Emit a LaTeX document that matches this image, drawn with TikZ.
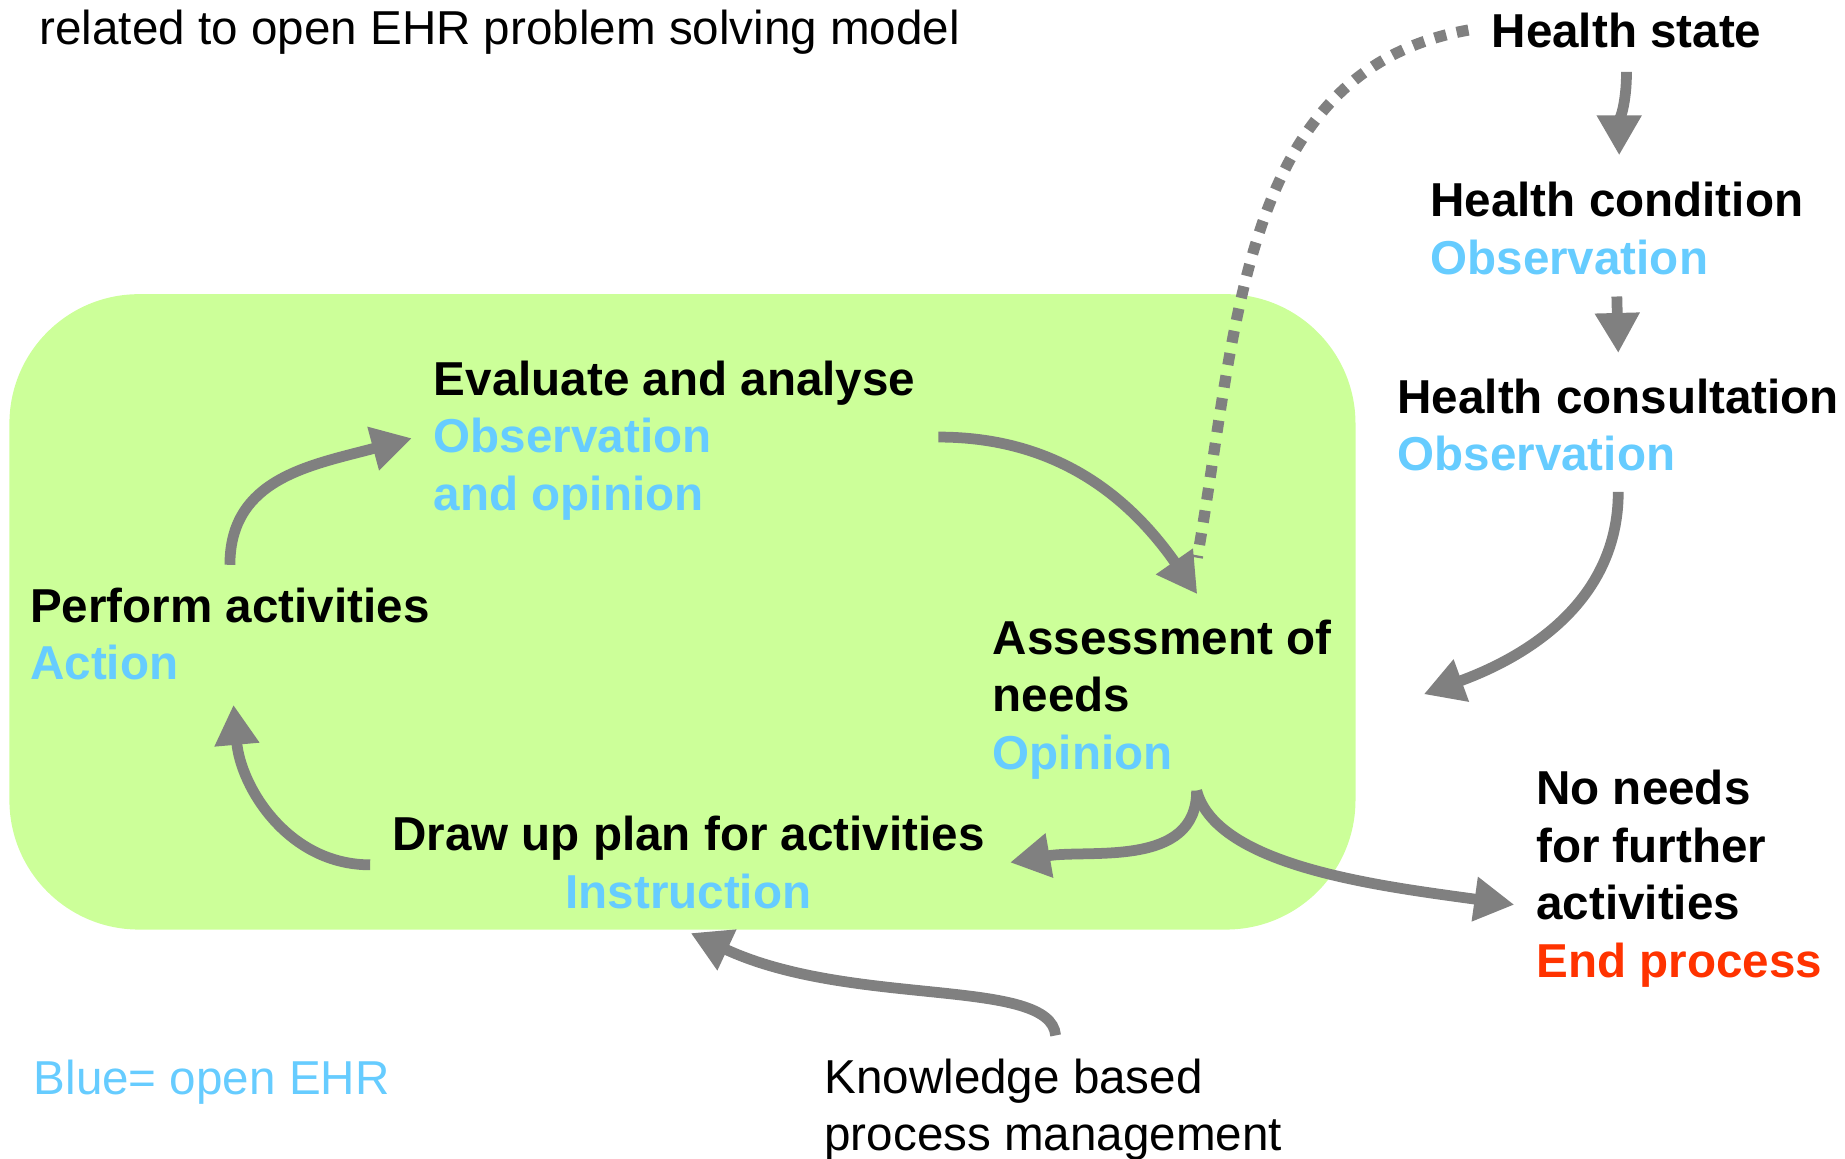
\documentclass[tikz,border=0pt]{standalone}
\usepackage{fontspec}
\setmainfont{Liberation Sans}
\usetikzlibrary{arrows.meta,positioning,calc}
\definecolor{ehrblue}{HTML}{66CCFF}
\definecolor{endred}{HTML}{FF3300}
\definecolor{arrowgray}{HTML}{808080}
\definecolor{carefill}{HTML}{CCFF99}
\tikzset{>={Triangle[length=3.4mm,width=3.6mm]}}
\tikzset{phase/.style={inner sep=0pt, anchor=north west, align=left,
    font=\fontsize{11.5}{13.9}\selectfont\bfseries}}
\tikzset{note/.style={phase, font=\fontsize{11.5}{13.9}\selectfont}}
\tikzset{flow/.style={draw=arrowgray, line width=2.6pt}}
\tikzset{hint/.style={draw=arrowgray, line width=2.7pt, dash pattern=on 2.9pt off 2.6pt}}

\begin{document}
\begin{tikzpicture}[x=0.01cm, y=-0.01cm]
    \useasboundingbox (0,0) rectangle (1568,985);
    \fill[carefill, rounded corners=1.1cm] (8,250) rectangle (1152,790);

    \node[note, anchor=base west] (title) at (33,38) {related to open EHR problem solving model};
    \node[phase, anchor=base west] (hstate) at (1267,40) {Health state};
    \node[phase] (hcond) at (1215,154) {Health condition\\\textcolor{ehrblue}{Observation}};
    \node[phase] (hcons) at (1187,321) {Health consultation\\\textcolor{ehrblue}{Observation}};
    \node[phase] (eval) at (368,306) {Evaluate and analyse\\\textcolor{ehrblue}{Observation}\\\textcolor{ehrblue}{and opinion}};
    \node[phase] (perform) at (25,499) {Perform activities\\\textcolor{ehrblue}{Action}};
    \node[phase] (assess) at (843,526) {Assessment of\\needs\\\textcolor{ehrblue}{Opinion}};
    \node[phase, anchor=north, align=center] (plan) at (585,693) {Draw up plan for activities\\\textcolor{ehrblue}{Instruction}};
    \node[phase] (noneeds) at (1305,654) {No needs\\for further\\activities\\\textcolor{endred}{End process}};
    \node[note, anchor=base west, text=ehrblue] (legend) at (28,930) {Blue= open EHR};
    \node[note] (know) at (700,899) {Knowledge based\\process management};

    \coordinate (split) at (1017,672);
    \coordinate (careedge) at (1210,590);

    \draw [hint] ($(hstate.west)+(-19,0)$) to[out=190, in=80] ($(assess.north)+(30,-52)$);

    \draw [->][flow, out=-90, in=90] ($(hstate.south)+(0,20)$) to ($(hcond.north)+(2,-22)$);
    \draw [->][flow] ($(hcond.south)+(0,18)$) to ($(hcons.north)+(0,-21)$);
    \draw [->][flow, out=-90, in=20] ($(hcons.south)+(0,17)$) to (careedge);

    \draw [->][flow, out=90, in=195, out looseness=1, in looseness=1.2] ($(perform.north)+(0,-19)$) to ($(eval.west)+(-18,-2)$);
    \draw [->][flow, out=0, in=125] ($(eval.east)+(19,-3)$) to ($(assess.north)+(30,-21)$);
    \draw [->][flow, out=-90, in=10] (split) to ($(plan.east)+(21,0)$);
    \draw [->][flow, out=-75, in=172, out looseness=0.6] (split) to ($(noneeds.west)+(-18,22)$);
    \draw [->][flow, out=180, in=-85] ($(plan.west)+(-18,2)$) to ($(perform.south)+(3,20)$);
    \draw [->][flow, out=95, in=-25, out looseness=0.4, in looseness=1.2] ($(know.north)+(2,-19)$) to ($(plan.south)+(2,20)$);
\end{tikzpicture}
\end{document}
